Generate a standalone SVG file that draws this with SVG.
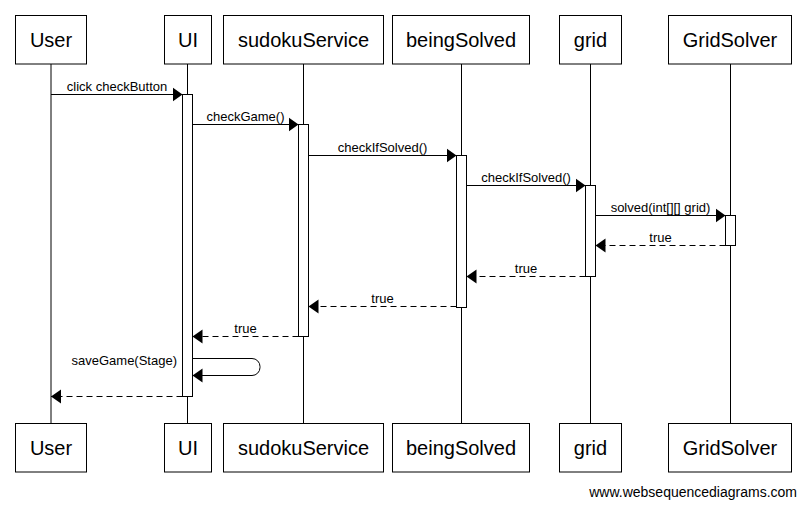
<svg xmlns="http://www.w3.org/2000/svg" width="806" height="507" viewBox="0 0 806 507">
<style>
.box{fill:#fff;stroke:#000;stroke-width:1}
.life{stroke:#000;stroke-width:1}
.act{fill:#fff;stroke:#000;stroke-width:1}
.pt{font-family:"Liberation Sans",Arial,sans-serif;font-size:20px;text-anchor:middle;fill:#000}
.ml{font-family:"Liberation Sans",Arial,sans-serif;font-size:13px;text-anchor:middle;fill:#000}
.msg{fill:none;stroke:#000;stroke-width:1;marker-end:url(#ah)}
.ret{fill:none;stroke:#000;stroke-width:1;stroke-dasharray:6,4;marker-end:url(#ah)}
.foot{font-family:"Liberation Sans",Arial,sans-serif;font-size:14px;text-anchor:end;fill:#000}
</style>
<defs>
<marker id="ah" markerUnits="userSpaceOnUse" markerWidth="11" markerHeight="16" refX="10" refY="8" orient="auto" viewBox="0 0 11 16">
<path d="M0,1 L10,8 L0,15 Z" fill="#000" stroke="none"/>
</marker>
</defs>
<rect width="806" height="507" fill="#fff"/>
<g id="lifelines">
<line class="life" x1="51" y1="64" x2="51" y2="423"/>
<line class="life" x1="187.5" y1="64" x2="187.5" y2="423"/>
<line class="life" x1="303.5" y1="64" x2="303.5" y2="423"/>
<line class="life" x1="461.5" y1="64" x2="461.5" y2="423"/>
<line class="life" x1="590.5" y1="64" x2="590.5" y2="423"/>
<line class="life" x1="730.5" y1="64" x2="730.5" y2="423"/>
</g>
<g id="User">
<rect class="box" x="15.5" y="15.5" width="71" height="48.5"/>
<text class="pt" x="51" y="46.5">User</text>
<rect class="box" x="15.5" y="423.5" width="71" height="48.5"/>
<text class="pt" x="51" y="454.5">User</text>
</g>
<g id="UI">
<rect class="box" x="164.5" y="15.5" width="47" height="48.5"/>
<text class="pt" x="188" y="46.5">UI</text>
<rect class="box" x="164.5" y="423.5" width="47" height="48.5"/>
<text class="pt" x="188" y="454.5">UI</text>
</g>
<g id="sudokuService">
<rect class="box" x="223.5" y="15.5" width="160" height="48.5"/>
<text class="pt" x="303.5" y="46.5">sudokuService</text>
<rect class="box" x="223.5" y="423.5" width="160" height="48.5"/>
<text class="pt" x="303.5" y="454.5">sudokuService</text>
</g>
<g id="beingSolved">
<rect class="box" x="392.5" y="15.5" width="137" height="48.5"/>
<text class="pt" x="461" y="46.5">beingSolved</text>
<rect class="box" x="392.5" y="423.5" width="137" height="48.5"/>
<text class="pt" x="461" y="454.5">beingSolved</text>
</g>
<g id="grid">
<rect class="box" x="559.5" y="15.5" width="62" height="48.5"/>
<text class="pt" x="590.5" y="46.5">grid</text>
<rect class="box" x="559.5" y="423.5" width="62" height="48.5"/>
<text class="pt" x="590.5" y="454.5">grid</text>
</g>
<g id="GridSolver">
<rect class="box" x="668.5" y="15.5" width="123" height="48.5"/>
<text class="pt" x="730" y="46.5">GridSolver</text>
<rect class="box" x="668.5" y="423.5" width="123" height="48.5"/>
<text class="pt" x="730" y="454.5">GridSolver</text>
</g>
<g id="activations">
<rect class="act" x="182.5" y="94.5" width="10" height="302"/>
<rect class="act" x="298.5" y="124.5" width="10" height="212"/>
<rect class="act" x="456.5" y="155.5" width="10" height="152"/>
<rect class="act" x="585.5" y="185.5" width="10" height="91"/>
<rect class="act" x="725.5" y="215.5" width="10" height="30"/>
</g>
<g id="connectors">
<path class="msg" d="M51,94.5 H182.5"/>
<text class="ml" x="117" y="90.5">click checkButton</text>
<path class="msg" d="M192.5,124.5 H298.5"/>
<text class="ml" x="245.5" y="120.5">checkGame()</text>
<path class="msg" d="M308.5,155.5 H456.5"/>
<text class="ml" x="382.5" y="151.5">checkIfSolved()</text>
<path class="msg" d="M466.5,185.5 H585.5"/>
<text class="ml" x="526" y="181.5">checkIfSolved()</text>
<path class="msg" d="M595.5,215.5 H725.5"/>
<text class="ml" x="660.5" y="211.5">solved(int[][] grid)</text>
<path class="ret" d="M725.5,245.5 H595.5"/>
<text class="ml" x="660.5" y="241.5">true</text>
<path class="ret" d="M585.5,276.5 H466.5"/>
<text class="ml" x="526" y="272.5">true</text>
<path class="ret" d="M456.5,306.5 H308.5"/>
<text class="ml" x="382.5" y="302.5">true</text>
<path class="ret" d="M298.5,336.5 H192.5"/>
<text class="ml" x="245.5" y="332.5">true</text>
<path class="msg" d="M192.5,358.5 H252 A8,8 0 0 1 260,366.5 V367.5 A8,8 0 0 1 252,375.5 H192.5"/>
<text class="ml" x="177" y="364.5" style="text-anchor:end">saveGame(Stage)</text>
<path class="ret" d="M182.5,396.5 H51"/>
</g>
<text class="foot" x="797" y="497">www.websequencediagrams.com</text>
</svg>
